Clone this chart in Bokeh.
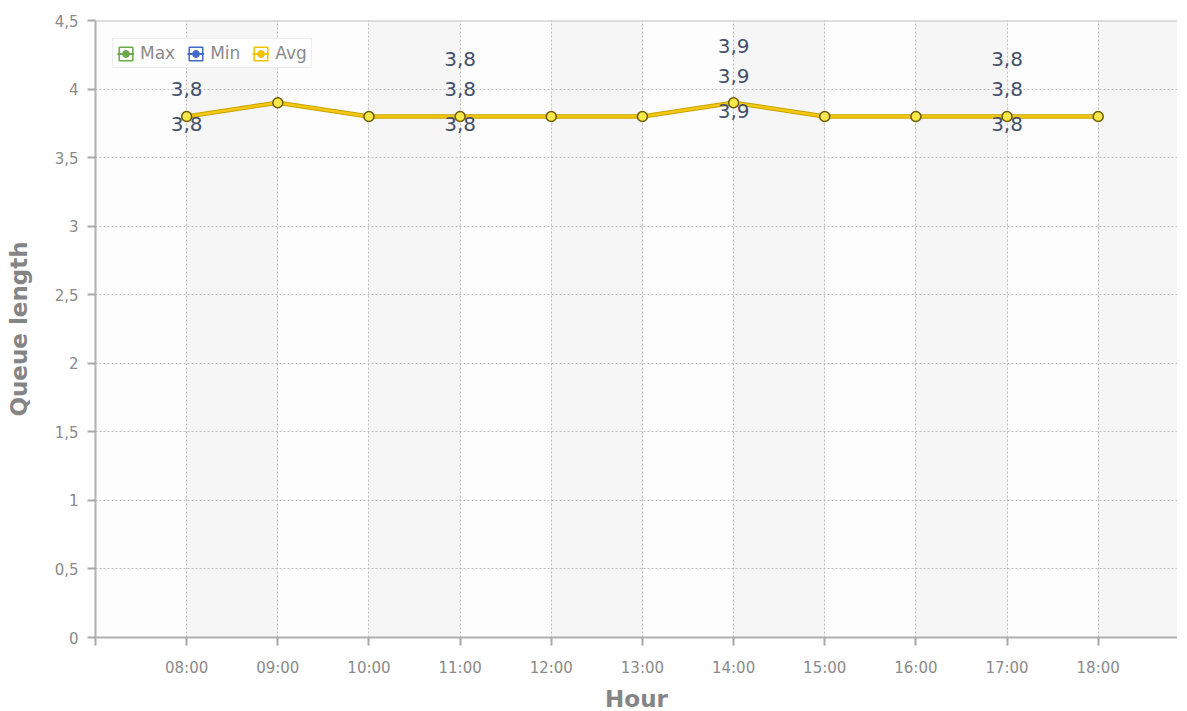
from bokeh.plotting import figure
from bokeh.models import (ColumnDataSource, Range1d, FixedTicker, CustomJSTickFormatter,
                          Legend, LegendItem, LabelSet, Span)
from bokeh.core.properties import value
from bokeh.embed import file_html
from bokeh.resources import INLINE

# ---- data ----
hours = ["08:00", "09:00", "10:00", "11:00", "12:00", "13:00",
         "14:00", "15:00", "16:00", "17:00", "18:00"]
max_vals = [3.8, 3.9, 3.8, 3.8, 3.8, 3.8, 3.9, 3.8, 3.8, 3.8, 3.8]
min_vals = [3.8, 3.9, 3.8, 3.8, 3.8, 3.8, 3.9, 3.8, 3.8, 3.8, 3.8]
avg_vals = [3.8, 3.9, 3.8, 3.8, 3.8, 3.8, 3.9, 3.8, 3.8, 3.8, 3.8]
y_ticks = [0, 0.5, 1, 1.5, 2, 2.5, 3, 3.5, 4, 4.5]
series_names = ["Max", "Min", "Avg"]
series_colors = ["#6aaa4a", "#4169c8", "#f2c200"]
# points where value labels are visible (index), per series
label_idx_max = [3, 6, 9]
label_idx_min = [0, 3, 6, 9]
label_idx_avg = [0, 3, 6, 9]

FONT = "DejaVu Sans"
GRAY = "#8a8a8a"

x = list(range(len(hours)))

p = figure(frame_width=1082, frame_height=617, output_backend="svg", toolbar_location=None,
           x_range=Range1d(-1, 10.87), y_range=Range1d(0, 4.5),
           min_border_left=95, min_border_right=0, min_border_top=20, min_border_bottom=72,
           background_fill_color="#fdfdfd", border_fill_color="white", outline_line_color=None)

# axes
for ax in (p.xaxis[0], p.yaxis[0]):
    ax.axis_line_color = "#b0b0b0"
    ax.axis_line_width = 2
    ax.major_tick_line_color = "#a8a8a8"
    ax.major_tick_line_width = 2
    ax.major_tick_out = 8
    ax.major_tick_in = 0
    ax.minor_tick_line_color = None
    ax.major_label_text_font = FONT
    ax.major_label_text_font_size = "15px"
    ax.major_label_text_color = GRAY
    ax.axis_label_text_font = FONT
    ax.axis_label_text_font_size = "23px"
    ax.axis_label_text_font_style = "bold"
    ax.axis_label_text_color = "#858585"

p.xaxis.axis_label = "Hour"
p.yaxis.axis_label = "Queue length"
p.xaxis.ticker = FixedTicker(ticks=list(range(-1, len(hours))))
p.xaxis.formatter = CustomJSTickFormatter(args=dict(labels=hours), code="""
    const i = Math.round(tick);
    return (i >= 0 && i < labels.length) ? labels[i] : '';
""")
p.xaxis.major_label_standoff = 13
p.xaxis.axis_label_standoff = 6
p.yaxis.ticker = FixedTicker(ticks=y_ticks)
p.yaxis.formatter = CustomJSTickFormatter(code="return tick.toString().replace('.', ',');")
p.yaxis.major_label_standoff = 9
p.yaxis.axis_label_standoff = 20

# grid
p.xgrid.ticker = FixedTicker(ticks=x)
for g in (p.xgrid[0], p.ygrid[0]):
    g.grid_line_color = "#bdbdbd"
    g.grid_line_dash = "2 2"
    g.grid_line_width = 1
p.ygrid.ticker = FixedTicker(ticks=y_ticks)
p.xgrid.band_fill_color = "#f6f6f6"
p.xgrid.band_fill_alpha = 1.0

# top border
p.add_layout(Span(location=4.5, dimension="width", line_color="#c0c0c0", line_width=2))

# series lines
src = ColumnDataSource(dict(x=x, mx=max_vals, mn=min_vals, av=avg_vals))
p.line("x", "mx", source=src, line_color=series_colors[0], line_width=2)
p.line("x", "mn", source=src, line_color=series_colors[1], line_width=2)
p.line("x", "av", source=src, line_color="#c9a200", line_width=4.5)
p.line("x", "av", source=src, line_color="#f3c80f", line_width=2.5)
p.scatter("x", "av", source=src, size=10, fill_color="#f7e84a",
          line_color="#6b5a00", line_width=1.5)

# value labels
def lab_source(idx, vals):
    return ColumnDataSource(dict(x=[x[i] for i in idx], y=[vals[i] for i in idx],
                                 t=[str(vals[i]).replace('.', ',') for i in idx]))

for idx, vals, off in ((label_idx_avg, avg_vals, -8), (label_idx_min, min_vals, 27),
                       (label_idx_max, max_vals, 57)):
    ls = LabelSet(x="x", y="y", text="t", source=lab_source(idx, vals), y_offset=off,
                  text_align="center", text_baseline="middle", text_font=value(FONT),
                  text_font_size="20px", text_color="#44506a")
    p.add_layout(ls)

# legend
items = []
for name, col in zip(series_names, series_colors):
    r1 = p.quad(left=[-100], right=[-99], top=[-100], bottom=[-101],
                fill_color="white", line_color=col, line_width=1.5)
    r2 = p.line([-100, -99], [-100, -100], line_color=col, line_width=2)
    r3 = p.scatter([-100], [-100], size=7, fill_color=col, line_color=col)
    items.append(LegendItem(label=name, renderers=[r1, r2, r3]))

legend = Legend(items=items, orientation="horizontal", location=(17, 569),
                glyph_width=17, glyph_height=17, label_standoff=6, spacing=12,
                padding=4, margin=0, label_text_font=FONT, label_text_font_size="17px",
                label_text_color=GRAY, border_line_color="#dcdcdc",
                background_fill_color="white", background_fill_alpha=1.0)
p.add_layout(legend)

open("out.html", "w").write(file_html(p, INLINE))
